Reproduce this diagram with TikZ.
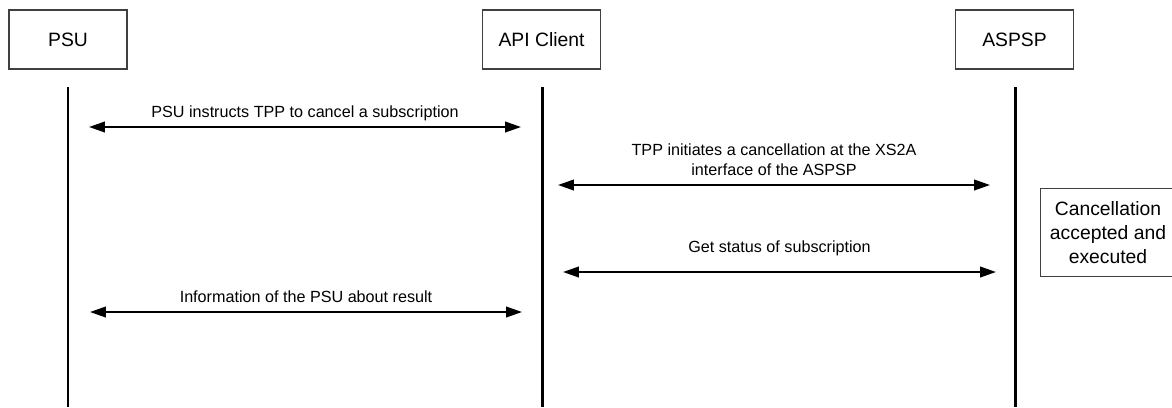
\documentclass[tikz,border=0pt]{standalone}
\usepackage{fontspec}
\setmainfont{Liberation Sans}
\usetikzlibrary{arrows.meta}

\tikzset{
  actor/.style={draw=black!75, line width=0.6pt, minimum width=2.36cm, minimum height=1.18cm, inner sep=0pt, font=\fontsize{11}{13}\selectfont},
  life/.style={line width=1.7pt},
  msg/.style={line width=1.1pt, {Triangle[length=9pt,width=6pt]}-{Triangle[length=9pt,width=6pt]}},
  lbl/.style={midway, above=3pt, inner sep=0pt, text depth=1.8pt, align=center, font=\fontsize{9.2}{11.2}\selectfont}
}

\begin{document}
\begin{tikzpicture}[x=0.02cm, y=-0.02cm]
    \useasboundingbox (0, 0) rectangle (1172, 407);
    % participants
    \node[actor] (psu) at (68, 39.5) {PSU};
    \node[actor] (client) at (541.5, 39.5) {API Client};
    \node[actor] (aspsp) at (1014.5, 39.5) {ASPSP};
    % life lines
    \coordinate (psuT) at (68, 87);
    \coordinate (psuB) at (68, 407);
    \coordinate (clientT) at (542, 87);
    \coordinate (clientB) at (542, 407);
    \coordinate (aspspT) at (1015, 87);
    \coordinate (aspspB) at (1015, 407);
    \draw[life] (psuT) -- (psuB);
    \draw[life] (clientT) -- (clientB);
    \draw[life] (aspspT) -- (aspspB);
    % messages
    \coordinate (m1a) at (89, 127);
    \coordinate (m1b) at (521, 127);
    \coordinate (m2a) at (558, 185);
    \coordinate (m2b) at (990, 185);
    \coordinate (m3a) at (563, 272);
    \coordinate (m3b) at (996, 272);
    \coordinate (m4a) at (90, 312);
    \coordinate (m4b) at (522, 312);
    \draw[msg] (m1a) -- node[lbl] {PSU instructs TPP to cancel a subscription} (m1b);
    \draw[msg] (m2a) -- node[lbl] {TPP initiates a cancellation at the XS2A\\interface of the ASPSP} (m2b);
    \draw[msg] (m3a) -- node[lbl, above=5.5pt] {Get status of subscription} (m3b);
    \draw[msg] (m4a) -- node[lbl] {Information of the PSU about result} (m4b);
    % status, its right side runs off the page
    \node[actor, draw=none, minimum width=2.68cm, minimum height=1.74cm, align=center, font=\fontsize{11}{13.6}\selectfont] (done) at (1108, 232.5) {Cancellation\\accepted and\\executed};
    \draw[black!75, line width=0.6pt] (done.north west) rectangle ([xshift=0.3cm]done.south east);
  \end{tikzpicture}
\end{document}
